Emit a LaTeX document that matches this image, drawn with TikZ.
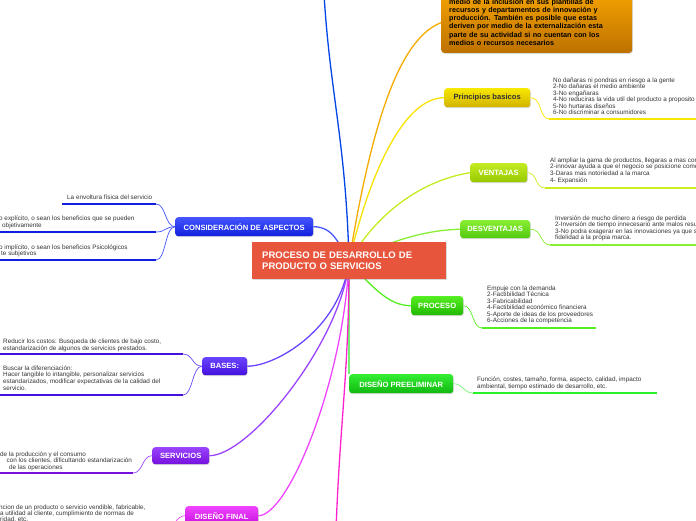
\documentclass[tikz,border=0pt]{standalone}
\usepackage{fontspec}
\setmainfont{Liberation Sans}
\usetikzlibrary{backgrounds,shadows}

\definecolor{rojo}{HTML}{E8553D}
\definecolor{texto}{HTML}{333333}
\definecolor{naranjaA}{HTML}{F3A200}
\definecolor{naranjaB}{HTML}{BE7200}
\definecolor{amarilloA}{HTML}{F8E800}
\definecolor{amarilloB}{HTML}{D2B200}
\definecolor{limaA}{HTML}{C4EC22}
\definecolor{limaB}{HTML}{96C800}
\definecolor{verdeA}{HTML}{88EE33}
\definecolor{verdeB}{HTML}{52C80E}
\definecolor{procA}{HTML}{55EE22}
\definecolor{procB}{HTML}{22B800}
\definecolor{prelA}{HTML}{33EE33}
\definecolor{prelB}{HTML}{10B810}
\definecolor{azulA}{HTML}{4455FF}
\definecolor{azulB}{HTML}{1020DD}
\definecolor{basesA}{HTML}{6A44FF}
\definecolor{basesB}{HTML}{4410DD}
\definecolor{servA}{HTML}{9A44FF}
\definecolor{servB}{HTML}{7510DD}
\definecolor{finalA}{HTML}{EE44FF}
\definecolor{finalB}{HTML}{C810DD}
\definecolor{rosa}{HTML}{FF22CC}

\tikzset{
  rama/.style={rounded corners=3pt, anchor=north west, inner sep=0pt, text=white,
    font=\fontsize{7.6}{9}\selectfont\bfseries,
    drop shadow={opacity=.3,shadow xshift=.6pt,shadow yshift=-1pt}},
  nota/.style={anchor=north west, inner sep=0pt, align=left, text=texto,
    font=\fontsize{6.35}{6.6}\selectfont},
  linea/.style={line width=2.4pt},
  enlace/.style={line width=1.3pt},
  hilo/.style={line width=.7pt},
}

\begin{document}
\begin{tikzpicture}[x=1pt,y=-1pt]
    %initialisation
    \useasboundingbox (0,0) rectangle (696,520);
    \clip (0,0) rectangle (696,520);
    %definitions
    \coordinate (c) at (349,262);
    \coordinate (ini) at (324,-6);
    \coordinate (fin) at (336,530);
    \node[rama, rounded corners=0pt, fill=rojo, minimum width=194pt, minimum height=37pt,
      text width=174pt, inner xsep=10pt, align=left,
      font=\fontsize{9.5}{11}\selectfont\bfseries] (desarrollo) at (252,242)
      {PROCESO DE DESARROLLO DE\\PRODUCTO O SERVICIOS};
    \node[rama, anchor=south west, top color=naranjaA, bottom color=naranjaB, text=black,
      text width=175pt, inner xsep=8pt, align=left,
      font=\fontsize{7.2}{8.13}\selectfont\bfseries] (naranja) at (441,53)
      {\rule{0pt}{12pt}medio de la inclusión en sus plantillas de\\
       recursos y departamentos de innovación y\\
       producción. También es posible que estas\\
       deriven por medio de la externalización esta\\
       parte de su actividad si no cuentan con los\\
       medios o recursos necesarios\rule[-7.6pt]{0pt}{0pt}};
    \node[rama, top color=amarilloA, bottom color=amarilloB, text=texto,
      minimum width=86pt, minimum height=19pt] (principios) at (444,88) {Principios basicos};
    \node[rama, top color=limaA, bottom color=limaB,
      minimum width=57pt, minimum height=19pt] (ventajas) at (470,163) {VENTAJAS};
    \node[rama, top color=verdeA, bottom color=verdeB,
      minimum width=70pt, minimum height=18pt] (desventajas) at (460,220) {DESVENTAJAS};
    \node[rama, top color=procA, bottom color=procB,
      minimum width=52pt, minimum height=19pt] (proceso) at (411,296) {PROCESO};
    \node[rama, top color=prelA, bottom color=prelB,
      minimum width=104pt, minimum height=19pt] (prelim) at (349,374) {DISEÑO PREELIMINAR};
    \node[rama, top color=azulA, bottom color=azulB,
      minimum width=138pt, minimum height=19pt] (aspectos) at (175,217) {CONSIDERACIÓN DE ASPECTOS};
    \node[rama, top color=basesA, bottom color=basesB,
      minimum width=45pt, minimum height=18pt] (bases) at (202,357) {BASES:};
    \node[rama, top color=servA, bottom color=servB,
      minimum width=57pt, minimum height=17pt] (servicios) at (152,447) {SERVICIOS};
    \node[rama, top color=finalA, bottom color=finalB,
      minimum width=73pt, minimum height=19pt] (final) at (185,506) {DISEÑO FINAL};
    %label
    \node[nota, font=\fontsize{6.35}{6.45}\selectfont] (t-prin) at (553,77.4) {No dañaras ni pondras en riesgo a la gente\\
      2-No dañaras el medio ambiente\\3-No engañaras\\
      4-No reduciras la vida util del producto a proposito\\
      5-No hurtaras diseños\\6-No discriminar a consumidores};
    \node[nota, font=\fontsize{6.35}{6.7}\selectfont] (t-ven) at (550,157.2) {Al ampliar la gama de productos, llegaras a mas con\\
      2-innovar ayuda a que el negocio se posicione como\\
      3-Daras mas notoriedad a la marca\\4- Expansión};
    \node[nota] (t-desv) at (555,215.2) {Inversión de mucho dinero a riesgo de perdida\\
      2-Inversión de tiempo innecesario ante malos resul\\
      3-No podra exagerar en las innovaciones ya que se\\
      fidelidad a la propia marca.};
    \node[nota, font=\fontsize{6.35}{6.5}\selectfont] (t-proc) at (487,285.2) {Empuje con la demanda\\2-Factibilidad Técnica\\
      3-Fabricabilidad\\4-Factibilidad económico financiera\\
      5-Aporte de ideas de los proveedores\\6-Acciones de la competencia};
    \node[nota, font=\fontsize{6.35}{7}\selectfont] (t-prel) at (477,376.2)
      {Función, costes, tamaño, forma, aspecto, calidad, impacto\\
      ambiental, tiempo estimado de desarrollo, etc.};
    \node[nota] (t-asp1) at (67,194.2) {La envoltura física del servicio};
    \node[nota, font=\fontsize{6.35}{7}\selectfont] (t-asp2) at (-1,215.2)
      {o explícito, o sean los beneficios que se pueden\\\hspace*{3pt}objetivamente};
    \node[nota, font=\fontsize{6.35}{6.3}\selectfont] (t-asp3) at (-1,244.2)
      {o implícito, o sean los beneficios Psicológicos\\\hspace*{2pt}te subjetivos};
    \node[nota, font=\fontsize{6.35}{7}\selectfont] (t-bas1) at (3,338.2)
      {Reducir los costos: Busqueda de clientes de bajo costo,\\
      estandarización de algunos de  servicios prestados.};
    \node[nota, font=\fontsize{6.35}{6.7}\selectfont] (t-bas2) at (3,365.2)
      {Buscar la diferenciación:\\Hacer tangible lo intangible, personalizar servicios\\
      estandarizados, modificar expectativas de la calidad del\\servicio.};
    \node[nota, font=\fontsize{6.35}{6.5}\selectfont] (t-serv) at (0,451.2) {de la producción y el consumo\\
      \hspace*{6.5pt}con los clientes, dificultando estandarización\\
      \hspace*{9pt}de las operaciones};
    \node[nota, font=\fontsize{6.35}{6.3}\selectfont] (t-fin) at (-1,504.2)
      {ncion de un producto o servicio vendible, fabricable,\\
      \hspace*{1pt}a utilidad al cliente, cumplimiento de normas de\\
      \hspace*{1pt}ridad, etc.};
    %underlines
    \coordinate (u-prin) at (549,119);
    \coordinate (u-ven) at (545,188);
    \coordinate (u-desv) at (550,245);
    \coordinate (u-proc) at (482,328);
    \coordinate (u-prel) at (473,393);
    \coordinate (u-asp1) at (156,204);
    \coordinate (u-asp2) at (156,232);
    \coordinate (u-asp3) at (156,260);
    \coordinate (u-bas1) at (183,354);
    \coordinate (u-bas2) at (183,395);
    \coordinate (u-serv) at (133,473);
    \coordinate (u-fin) at (168,532);
    \draw[linea, amarilloA] (u-prin) -- ++(160,0);
    \draw[linea, limaA!90!yellow] (u-ven) -- ++(160,0);
    \draw[linea, verdeA] (u-desv) -- ++(160,0);
    \draw[linea, procA] (u-proc) -- (596,328);
    \draw[linea, prelA!80!green] (u-prel) -- (657,393);
    \draw[linea, azulB] (u-asp1) -- (62,204);
    \draw[linea, azulB] (u-asp2) -- ++(-170,0);
    \draw[linea, azulB] (u-asp3) -- ++(-170,0);
    \draw[linea, basesB] (u-bas1) -- ++(-190,0);
    \draw[linea, basesB] (u-bas2) -- ++(-190,0);
    \draw[linea, servB] (u-serv) -- ++(-140,0);
    %drawing
    \begin{scope}[on background layer]
      \draw[enlace, blue!70!cyan!90!black] (c) .. controls +(-3,-120) and +(6,100) .. (ini);
      \draw[enlace, naranjaA!90!yellow] (c) .. controls +(23,-142) and +(-41,16) .. (naranja.west);
      \draw[enlace, amarilloA!95!orange] (c) .. controls +(21,-92) and +(-39,0) .. (principios.west);
      \draw[enlace, limaA] (c) .. controls +(26,-47) and +(-50,8) .. (ventajas.west);
      \draw[enlace, verdeA] (c) .. controls +(31,-17) and +(-40,1) .. (desventajas.west);
      \draw[enlace, procA] (c) .. controls +(26,28) and +(-21,0) .. (proceso.west);
      \draw[enlace, prelA!70!white] (c) -- (c |- prelim.north);
      \draw[enlace, rosa] (c) .. controls +(0,110) and +(4,-110) .. (fin);
      \draw[enlace, azulA] (c) .. controls +(-10,-18) and +(20,0) .. (aspectos.east);
      \draw[enlace, basesA] (c) .. controls +(-9,68) and +(28,0) .. (bases.east);
      \draw[enlace, servA] (c) .. controls +(-8,80) and +(40,0) .. (servicios.east);
      \draw[enlace, finalA] (c) .. controls +(-6,120) and +(30,0) .. (final.east);
    \end{scope}
    \draw[hilo, amarilloA] (principios.east) .. controls +(12,0) and +(-10,0) .. (u-prin);
    \draw[hilo, limaA] (ventajas.east) .. controls +(10,0) and +(-10,0) .. (u-ven);
    \draw[hilo, verdeA] (desventajas.east) .. controls +(12,0) and +(-10,0) .. (u-desv);
    \draw[hilo, procA] (proceso.east) .. controls +(10,0) and +(-10,0) .. (u-proc);
    \draw[hilo, prelA!70!white] (prelim.east) .. controls +(10,0) and +(-10,0) .. (u-prel);
    \draw[hilo, azulA] (aspectos.west) .. controls +(-10,0) and +(10,0) .. (u-asp1);
    \draw[hilo, azulA] (aspectos.west) .. controls +(-10,0) and +(10,0) .. (u-asp2);
    \draw[hilo, azulA] (aspectos.west) .. controls +(-10,0) and +(10,0) .. (u-asp3);
    \draw[hilo, basesA] (bases.west) .. controls +(-10,0) and +(10,0) .. (u-bas1);
    \draw[hilo, basesA] (bases.west) .. controls +(-10,0) and +(10,0) .. (u-bas2);
    \draw[hilo, servA] (servicios.west) .. controls +(-10,0) and +(10,0) .. (u-serv);
    \draw[hilo, finalA] (final.west) .. controls +(-8,0) and +(6,-6) .. (u-fin);
\end{tikzpicture}
\end{document}
